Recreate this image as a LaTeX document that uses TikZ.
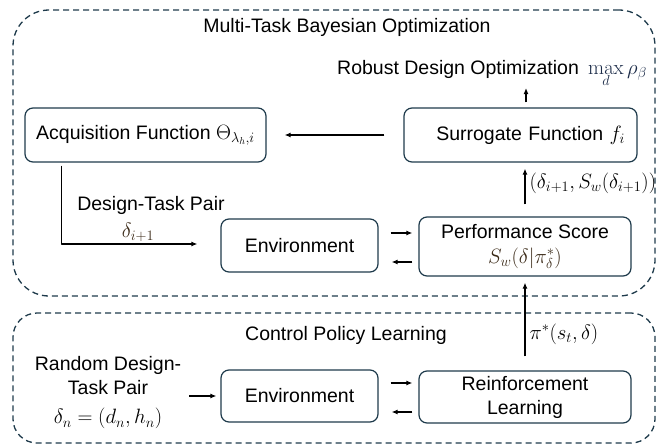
\documentclass[tikz,border=0pt]{standalone}
\usepackage[no-math]{fontspec}
\setmainfont{Liberation Sans}
\usetikzlibrary{arrows.meta}
\definecolor{boxline}{HTML}{1E3A4B}
\definecolor{mathbrown}{HTML}{3B2A18}
\definecolor{mathnavy}{HTML}{1B2B48}
\tikzset{
  blockbox/.style={draw=boxline, line width=1.2pt, rounded corners=8pt, inner sep=0pt, align=center},
  groupbox/.style={draw=boxline, line width=1.3pt, dash pattern=on 6pt off 4pt, inner sep=0pt},
  flow/.style={->, line width=1.2pt},
}
\begin{document}
\begin{tikzpicture}[x=1pt, y=-1pt, >={Latex[length=6pt,width=5pt]}, line join=round, font=\fontsize{19.5}{24}\selectfont]
  \useasboundingbox (0,0) rectangle (667,445);
  \node[groupbox, rounded corners=36pt, minimum width=642pt, minimum height=286pt] (mtbo) at (334,153) {};
  \node[groupbox, rounded corners=24pt, minimum width=642pt, minimum height=130pt] (cpl) at (334,378) {};
  \node (mtbotitle) at (347,27) {Multi-Task Bayesian Optimization};
  \node (cpltitle) at (346,335) {Control Policy Learning};

  \node[anchor=base west, inner sep=0pt] (robust) at (337,74) {Robust Design Optimization};
  \node[anchor=base west, inner sep=0pt] (robustmath) at (588,74) {\textcolor{mathnavy}{$\max\limits_{d}\rho_\beta$}};
  \node[blockbox, minimum width=241pt, minimum height=54pt] (acq) at (145.5,135) {Acquisition Function $\Theta_{\lambda_h,i}$};
  \node[blockbox, minimum height=54pt, text width=209pt, align=right, inner xsep=12pt] (sur) at (520.5,135) {Surrogate Function $f_i$};
  \node[blockbox, minimum width=157pt, minimum height=53pt] (envt) at (299.5,245.5) {Environment};
  \node[blockbox, minimum width=212pt, minimum height=59pt] (perf) at (525,246.5) {Performance Score\\[1pt]\textcolor{mathbrown}{$S_w(\delta|\pi^*_\delta)$}};
  \node[blockbox, minimum width=157pt, minimum height=52pt] (envb) at (299.5,396) {Environment};
  \node[blockbox, minimum width=212pt, minimum height=52pt] (rl) at (525,397) {Reinforcement\\Learning};

  \node (pairlabel) at (151,205) {Design-Task Pair};
  \node (pairmath) at (138,232) {\textcolor{mathbrown}{$\delta_{i+1}$}};
  \node[align=center, inner sep=0pt] (rand) at (108,393) {Random Design-\\Task Pair\\[5pt]$\delta_n=(d_n,h_n)$};

  \coordinate (robin) at (526,88);
  \draw[flow] ([xshift=5.5pt,yshift=5pt]sur.north) -- (robin);
  \draw[flow] ([xshift=-19pt]sur.west) -- ([xshift=18pt]acq.east);
  \draw[flow] ([xshift=37pt,yshift=-3pt]acq.south west) |- ([xshift=-23pt,yshift=1.5pt]envt.west);
  \draw[flow] ([yshift=12pt]perf.north) -- ([yshift=-6pt]perf.north |- sur.south)
    node[pos=0.6, right, inner sep=4pt] {$(\delta_{i+1},S_w(\delta_{i+1}))$};
  \draw[flow] ([xshift=12pt,yshift=12.5pt]envt.east) -- ([xshift=-6pt,yshift=13.5pt]perf.west);
  \draw[flow] ([xshift=-6pt,yshift=-15.5pt]perf.west) -- ([xshift=13pt,yshift=-16.5pt]envt.east);
  \draw[flow] ([yshift=14pt]rl.north) -- ([yshift=-6pt]rl.north |- perf.south)
    node[pos=0.3, right, inner sep=4pt] {$\pi^*(s_t,\delta)$};
  \draw[flow] ([xshift=-31pt]envb.west) -- ([xshift=-4pt]envb.west);
  \draw[flow] ([xshift=12pt,yshift=13pt]envb.east) -- ([xshift=-6pt,yshift=14pt]rl.west);
  \draw[flow] ([xshift=-6pt,yshift=-15pt]rl.west) -- ([xshift=13pt,yshift=-16pt]envb.east);
\end{tikzpicture}
\end{document}
